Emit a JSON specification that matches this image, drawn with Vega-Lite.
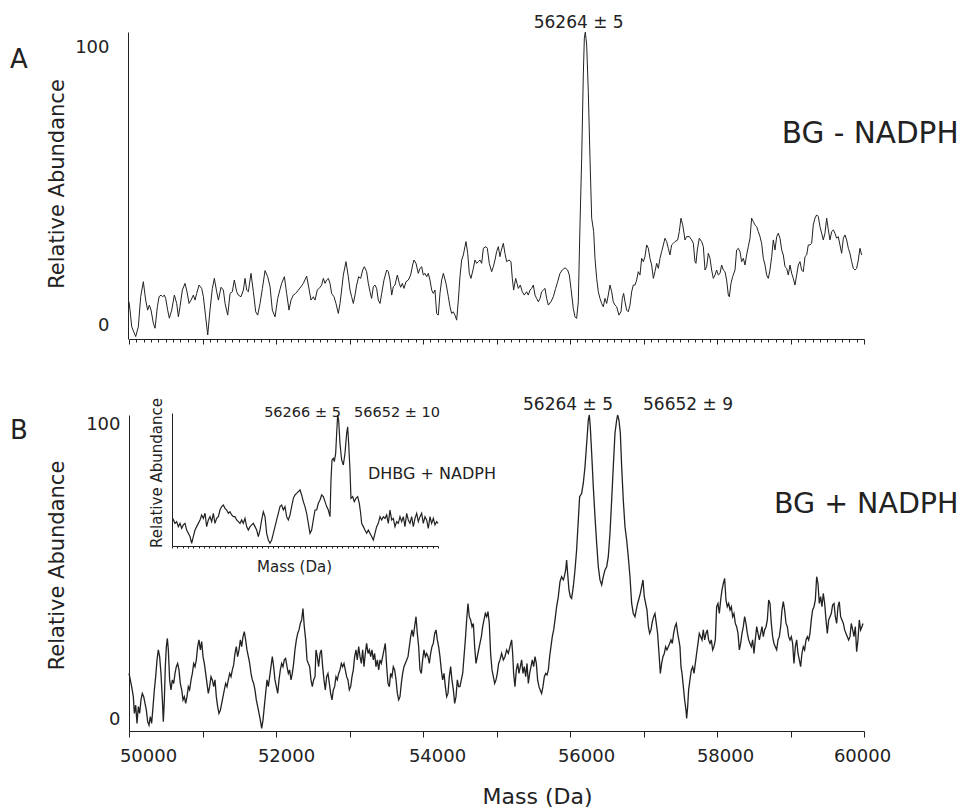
{
"$schema": "https://vega.github.io/schema/vega-lite/v6.json",
"width": 962, "height": 809, "autosize": {"type": "none"}, "padding": 0, "background": "white",
"config": {"view": {"stroke": null}, "axis": {"grid": false, "domainColor": "#222", "tickColor": "#222", "labelColor": "#222", "titleColor": "#222", "labelFont": "DejaVu Sans", "titleFont": "DejaVu Sans", "titleFontWeight": "normal", "labelFlush": false, "labelOverlap": false}, "text": {"font": "DejaVu Sans", "color": "#222"}},
"datasets": {
"A": [{"m":50000,"v":8.7},{"m":50014,"v":5.7},{"m":50037,"v":-0.3},{"m":50091,"v":-3.8},{"m":50127,"v":-0.3},{"m":50159,"v":10.5},{"m":50195,"v":15.9},{"m":50227,"v":9.3},{"m":50254,"v":5.7},{"m":50277,"v":7.5},{"m":50300,"v":5.7},{"m":50331,"v":1.0},{"m":50354,"v":-0.8},{"m":50386,"v":6.9},{"m":50409,"v":10.5},{"m":50436,"v":11.1},{"m":50458,"v":10.5},{"m":50481,"v":11.1},{"m":50499,"v":9.9},{"m":50526,"v":5.7},{"m":50549,"v":2.8},{"m":50581,"v":5.7},{"m":50617,"v":11.1},{"m":50649,"v":8.1},{"m":50672,"v":3.3},{"m":50694,"v":6.9},{"m":50726,"v":12.9},{"m":50762,"v":15.3},{"m":50789,"v":12.3},{"m":50817,"v":8.1},{"m":50844,"v":9.3},{"m":50876,"v":11.1},{"m":50898,"v":9.3},{"m":50921,"v":11.7},{"m":50953,"v":14.7},{"m":50989,"v":13.5},{"m":51012,"v":10.5},{"m":51043,"v":3.3},{"m":51071,"v":-3.2},{"m":51102,"v":5.7},{"m":51134,"v":13.5},{"m":51161,"v":17.1},{"m":51193,"v":12.3},{"m":51216,"v":9.3},{"m":51252,"v":13.9},{"m":51284,"v":12.9},{"m":51307,"v":8.1},{"m":51343,"v":3.9},{"m":51375,"v":11.7},{"m":51406,"v":12.3},{"m":51433,"v":16.5},{"m":51465,"v":12.3},{"m":51488,"v":11.1},{"m":51524,"v":10.5},{"m":51556,"v":12.9},{"m":51579,"v":17.1},{"m":51601,"v":12.9},{"m":51624,"v":12.3},{"m":51660,"v":18.9},{"m":51692,"v":12.3},{"m":51724,"v":5.1},{"m":51751,"v":3.9},{"m":51783,"v":8.1},{"m":51815,"v":13.5},{"m":51851,"v":19.9},{"m":51887,"v":17.7},{"m":51919,"v":14.1},{"m":51950,"v":5.7},{"m":51987,"v":3.3},{"m":52023,"v":9.9},{"m":52055,"v":13.2},{"m":52077,"v":15.3},{"m":52114,"v":17.7},{"m":52145,"v":11.7},{"m":52177,"v":5.7},{"m":52204,"v":9.3},{"m":52236,"v":11.1},{"m":52268,"v":11.7},{"m":52304,"v":12.9},{"m":52340,"v":14.1},{"m":52372,"v":15.3},{"m":52417,"v":17.9},{"m":52440,"v":14.7},{"m":52476,"v":9.3},{"m":52508,"v":10.5},{"m":52531,"v":9.3},
{"m":52562,"v":12.9},{"m":52599,"v":13.9},{"m":52621,"v":14.7},{"m":52644,"v":17.1},{"m":52667,"v":15.3},{"m":52689,"v":16.5},{"m":52712,"v":17.1},{"m":52735,"v":15.3},{"m":52757,"v":11.7},{"m":52789,"v":10.5},{"m":52816,"v":8.1},{"m":52848,"v":4.5},{"m":52871,"v":8.1},{"m":52898,"v":14.1},{"m":52916,"v":18.3},{"m":52952,"v":23.1},{"m":52984,"v":17.7},{"m":53007,"v":12.9},{"m":53029,"v":10.5},{"m":53052,"v":8.1},{"m":53075,"v":11.1},{"m":53097,"v":14.7},{"m":53125,"v":17.7},{"m":53152,"v":17.1},{"m":53179,"v":20.1},{"m":53202,"v":21.3},{"m":53233,"v":19.5},{"m":53256,"v":15.3},{"m":53279,"v":12.3},{"m":53301,"v":9.9},{"m":53324,"v":14.1},{"m":53347,"v":14.7},{"m":53369,"v":13.5},{"m":53392,"v":9.3},{"m":53415,"v":8.1},{"m":53438,"v":11.7},{"m":53469,"v":16.5},{"m":53506,"v":20.1},{"m":53528,"v":19.5},{"m":53551,"v":16.5},{"m":53574,"v":11.1},{"m":53596,"v":14.1},{"m":53619,"v":14.7},{"m":53651,"v":18.3},{"m":53678,"v":15.3},{"m":53696,"v":13.9},{"m":53719,"v":15.3},{"m":53741,"v":13.5},{"m":53769,"v":15.9},{"m":53800,"v":16.5},{"m":53832,"v":18.3},{"m":53859,"v":21.9},{"m":53877,"v":23.7},{"m":53905,"v":22.5},{"m":53936,"v":18.9},{"m":53959,"v":20.7},{"m":53982,"v":21.3},{"m":54004,"v":18.3},{"m":54027,"v":18.9},{"m":54050,"v":17.7},{"m":54072,"v":18.9},{"m":54095,"v":16.5},{"m":54118,"v":12.9},{"m":54140,"v":11.7},{"m":54163,"v":12.9},{"m":54186,"v":4.5},{"m":54208,"v":3.9},{"m":54231,"v":11.7},{"m":54254,"v":16.5},{"m":54277,"v":18.9},{"m":54313,"v":15.3},{"m":54345,"v":10.5},{"m":54367,"v":6.9},{"m":54390,"v":4.5},{"m":54413,"v":5.1},{"m":54435,"v":3.9},{"m":54458,"v":2.1},{"m":54481,"v":9.3},{"m":54503,"v":17.7},{"m":54526,"v":23.7},{"m":54549,"v":25.5},{"m":54571,"v":28.5},{"m":54585,"v":30.3},{"m":54608,"v":26.1},{"m":54630,"v":18.9},{"m":54653,"v":17.1},{"m":54685,"v":20.7},{"m":54707,"v":23.7},{"m":54730,"v":22.5},{"m":54753,"v":23.1},{"m":54775,"v":23.7},{"m":54798,"v":22.5},{"m":54821,"v":27.9},{"m":54857,"v":28.5},{"m":54875,"v":27.9},{"m":54902,"v":22.5},{"m":54934,"v":19.5},{"m":54957,"v":21.3},{"m":54979,"v":23.7},{"m":55002,"v":26.7},{"m":55025,"v":28.5},{"m":55047,"v":24.9},
{"m":55061,"v":26.7},{"m":55093,"v":29.7},{"m":55115,"v":26.1},{"m":55138,"v":23.1},{"m":55170,"v":23.7},{"m":55197,"v":23.1},{"m":55215,"v":17.1},{"m":55233,"v":12.9},{"m":55261,"v":17.1},{"m":55279,"v":15.3},{"m":55297,"v":13.5},{"m":55324,"v":14.7},{"m":55351,"v":12.3},{"m":55378,"v":11.1},{"m":55410,"v":12.3},{"m":55433,"v":11.1},{"m":55456,"v":12.9},{"m":55478,"v":13.5},{"m":55501,"v":14.7},{"m":55524,"v":11.1},{"m":55546,"v":9.9},{"m":55569,"v":8.7},{"m":55592,"v":9.9},{"m":55614,"v":12.3},{"m":55637,"v":12.9},{"m":55660,"v":13.5},{"m":55682,"v":9.9},{"m":55705,"v":7.5},{"m":55741,"v":8.7},{"m":55773,"v":10.5},{"m":55805,"v":13.5},{"m":55832,"v":15.9},{"m":55864,"v":18.9},{"m":55895,"v":20.1},{"m":55932,"v":20.9},{"m":55968,"v":20.1},{"m":55991,"v":18.3},{"m":56013,"v":13.5},{"m":56045,"v":6.3},{"m":56068,"v":3.3},{"m":56090,"v":2.7},{"m":56113,"v":8.7},{"m":56136,"v":36.3},{"m":56159,"v":60.2},{"m":56181,"v":90.1},{"m":56195,"v":103.3},{"m":56208,"v":105.5},{"m":56227,"v":100.9},{"m":56249,"v":84.1},{"m":56272,"v":60.2},{"m":56295,"v":38.7},{"m":56322,"v":33.9},{"m":56340,"v":24.3},{"m":56363,"v":17.1},{"m":56385,"v":12.3},{"m":56408,"v":9.9},{"m":56431,"v":8.1},{"m":56453,"v":6.9},{"m":56476,"v":9.9},{"m":56499,"v":8.1},{"m":56521,"v":11.1},{"m":56544,"v":14.7},{"m":56567,"v":12.3},{"m":56589,"v":8.7},{"m":56612,"v":7.5},{"m":56635,"v":6.9},{"m":56666,"v":3.9},{"m":56694,"v":5.1},{"m":56712,"v":9.9},{"m":56730,"v":11.7},{"m":56748,"v":8.7},{"m":56771,"v":5.7},{"m":56793,"v":5.1},{"m":56816,"v":7.5},{"m":56839,"v":12.3},{"m":56861,"v":14.7},{"m":56884,"v":14.7},{"m":56907,"v":16.5},{"m":56929,"v":19.5},{"m":56952,"v":18.3},{"m":56975,"v":24.3},{"m":56998,"v":23.1},{"m":57020,"v":24.9},{"m":57043,"v":29.1},{"m":57066,"v":27.9},{"m":57088,"v":24.3},{"m":57111,"v":21.9},{"m":57134,"v":17.1},{"m":57156,"v":19.5},{"m":57179,"v":22.5},{"m":57202,"v":20.7},{"m":57224,"v":24.3},{"m":57247,"v":26.7},{"m":57270,"v":29.1},{"m":57292,"v":31.5},{"m":57315,"v":30.3},{"m":57338,"v":27.9},{"m":57360,"v":25.5},{"m":57383,"v":29.1},{"m":57406,"v":29.7},{"m":57428,"v":30.3},{"m":57465,"v":30.9},{"m":57487,"v":33.9},{"m":57510,"v":38.7},{"m":57533,"v":36.3},{"m":57555,"v":32.7},
{"m":57564,"v":30.9},{"m":57587,"v":32.1},{"m":57623,"v":32.1},{"m":57655,"v":30.9},{"m":57678,"v":29.7},{"m":57700,"v":23.1},{"m":57714,"v":22.5},{"m":57732,"v":27.3},{"m":57759,"v":31.5},{"m":57791,"v":30.3},{"m":57814,"v":28.5},{"m":57837,"v":20.1},{"m":57859,"v":21.3},{"m":57882,"v":26.1},{"m":57905,"v":24.3},{"m":57927,"v":20.1},{"m":57950,"v":17.1},{"m":57973,"v":18.3},{"m":57995,"v":20.1},{"m":58018,"v":18.3},{"m":58041,"v":18.9},{"m":58063,"v":21.9},{"m":58086,"v":20.1},{"m":58109,"v":19.5},{"m":58131,"v":16.5},{"m":58154,"v":11.1},{"m":58168,"v":10.5},{"m":58190,"v":15.3},{"m":58213,"v":17.7},{"m":58245,"v":20.1},{"m":58267,"v":27.3},{"m":58290,"v":27.9},{"m":58313,"v":26.7},{"m":58335,"v":23.1},{"m":58358,"v":24.3},{"m":58381,"v":21.9},{"m":58403,"v":25.5},{"m":58426,"v":28.5},{"m":58449,"v":31.5},{"m":58471,"v":38.7},{"m":58494,"v":37.5},{"m":58517,"v":36.3},{"m":58539,"v":35.7},{"m":58562,"v":33.9},{"m":58585,"v":32.1},{"m":58607,"v":29.7},{"m":58630,"v":24.3},{"m":58653,"v":21.9},{"m":58676,"v":18.3},{"m":58698,"v":17.1},{"m":58721,"v":20.1},{"m":58744,"v":24.9},{"m":58766,"v":30.9},{"m":58789,"v":27.3},{"m":58812,"v":32.1},{"m":58834,"v":33.3},{"m":58857,"v":31.5},{"m":58880,"v":27.3},{"m":58902,"v":25.5},{"m":58925,"v":21.3},{"m":58948,"v":20.7},{"m":58970,"v":18.3},{"m":58993,"v":21.9},{"m":59016,"v":18.9},{"m":59038,"v":17.1},{"m":59061,"v":14.7},{"m":59084,"v":18.3},{"m":59106,"v":21.9},{"m":59129,"v":23.1},{"m":59152,"v":20.1},{"m":59174,"v":19.5},{"m":59197,"v":24.9},{"m":59220,"v":25.5},{"m":59242,"v":29.1},{"m":59265,"v":29.1},{"m":59288,"v":29.7},{"m":59310,"v":36.3},{"m":59333,"v":38.7},{"m":59356,"v":39.9},{"m":59378,"v":39.3},{"m":59401,"v":35.7},{"m":59424,"v":33.3},{"m":59446,"v":30.9},{"m":59469,"v":33.3},{"m":59492,"v":38.7},{"m":59515,"v":34.5},{"m":59537,"v":30.9},{"m":59560,"v":33.9},{"m":59583,"v":34.5},{"m":59605,"v":33.3},{"m":59628,"v":31.5},{"m":59650,"v":32.1},{"m":59673,"v":29.1},{"m":59696,"v":26.1},{"m":59719,"v":31.5},{"m":59741,"v":32.7},{"m":59764,"v":30.9},{"m":59787,"v":27.9},{"m":59809,"v":26.1},{"m":59832,"v":23.1},{"m":59855,"v":20.7},{"m":59877,"v":20.1},{"m":59900,"v":20.7},{"m":59923,"v":23.7},{"m":59945,"v":27.9},{"m":59968,"v":25.5}],
"B": [{"m":50000,"v":15.5},{"m":50018,"v":13.3},{"m":50036,"v":11.0},{"m":50059,"v":7.6},{"m":50073,"v":1.9},{"m":50091,"v":4.7},{"m":50109,"v":-1.5},{"m":50127,"v":4.2},{"m":50145,"v":1.9},{"m":50163,"v":6.5},{"m":50181,"v":8.7},{"m":50200,"v":7.6},{"m":50218,"v":5.3},{"m":50236,"v":3.0},{"m":50254,"v":-0.9},{"m":50272,"v":-2.1},{"m":50290,"v":0.8},{"m":50308,"v":-1.5},{"m":50327,"v":4.2},{"m":50345,"v":9.9},{"m":50363,"v":14.4},{"m":50381,"v":20.1},{"m":50399,"v":23.5},{"m":50417,"v":21.2},{"m":50435,"v":15.5},{"m":50454,"v":6.5},{"m":50467,"v":-0.9},{"m":50481,"v":6.5},{"m":50494,"v":17.8},{"m":50508,"v":24.6},{"m":50522,"v":27.4},{"m":50535,"v":23.5},{"m":50553,"v":13.3},{"m":50571,"v":9.9},{"m":50590,"v":13.3},{"m":50608,"v":12.1},{"m":50626,"v":15.5},{"m":50644,"v":17.8},{"m":50662,"v":18.9},{"m":50680,"v":16.7},{"m":50698,"v":12.1},{"m":50717,"v":9.9},{"m":50735,"v":6.5},{"m":50753,"v":7.6},{"m":50771,"v":5.3},{"m":50789,"v":7.6},{"m":50807,"v":11.0},{"m":50825,"v":9.9},{"m":50844,"v":13.3},{"m":50862,"v":15.5},{"m":50880,"v":18.9},{"m":50898,"v":17.8},{"m":50916,"v":20.1},{"m":50934,"v":24.6},{"m":50952,"v":26.9},{"m":50971,"v":23.5},{"m":50989,"v":26.3},{"m":51007,"v":21.2},{"m":51025,"v":18.9},{"m":51043,"v":15.5},{"m":51061,"v":12.1},{"m":51079,"v":8.7},{"m":51097,"v":11.0},{"m":51116,"v":14.4},{"m":51134,"v":13.3},{"m":51152,"v":11.0},{"m":51170,"v":13.3},{"m":51188,"v":7.6},{"m":51206,"v":4.2},{"m":51224,"v":1.9},{"m":51243,"v":3.0},{"m":51261,"v":5.3},{"m":51279,"v":7.6},{"m":51297,"v":9.9},{"m":51315,"v":12.1},{"m":51333,"v":11.0},{"m":51351,"v":13.3},{"m":51370,"v":15.5},{"m":51388,"v":14.4},{"m":51406,"v":16.7},{"m":51424,"v":18.4},{"m":51442,"v":22.3},{"m":51460,"v":24.6},{"m":51478,"v":21.2},{"m":51497,"v":23.5},{"m":51515,"v":26.9},{"m":51533,"v":24.6},{"m":51551,"v":28.0},{"m":51569,"v":29.7},{"m":51587,"v":26.9},{"m":51605,"v":23.5},{"m":51624,"v":21.2},{"m":51642,"v":18.9},{"m":51660,"v":15.5},{"m":51678,"v":13.3},{"m":51696,"v":12.1},{"m":51714,"v":9.9},{"m":51732,"v":6.5},{"m":51751,"v":4.2},{"m":51769,"v":1.9},{"m":51787,"v":-0.4},{"m":51805,"v":-3.2},{"m":51823,"v":-0.4},{"m":51841,"v":4.2},{"m":51859,"v":8.7},{"m":51878,"v":13.3},{"m":51896,"v":11.0},{"m":51914,"v":14.4},{"m":51932,"v":17.8},{"m":51950,"v":21.2},{"m":51968,"v":17.8},{"m":51986,"v":13.3},{"m":52005,"v":11.0},{"m":52023,"v":8.7},{"m":52041,"v":13.3},{"m":52059,"v":16.7},{"m":52077,"v":18.9},{"m":52095,"v":17.8},{"m":52113,"v":20.1},{"m":52131,"v":20.6},{"m":52150,"v":17.8},{"m":52168,"v":15.5},{"m":52186,"v":16.7},{"m":52204,"v":13.3},{"m":52222,"v":15.5},{"m":52240,"v":18.9},{"m":52258,"v":23.5},{"m":52277,"v":26.9},{"m":52295,"v":29.1},{"m":52313,"v":30.3},{"m":52331,"v":32.5},{"m":52349,"v":33.7},{"m":52367,"v":37.6},{"m":52385,"v":31.4},{"m":52404,"v":26.9},{"m":52422,"v":20.1},{"m":52440,"v":18.9},{"m":52458,"v":17.8},{"m":52476,"v":13.3},{"m":52494,"v":11.0},{"m":52512,"v":13.3},{"m":52531,"v":14.4},
{"m":52544,"v":23.5},{"m":52562,"v":21.2},{"m":52580,"v":17.8},{"m":52599,"v":22.3},{"m":52617,"v":23.5},{"m":52635,"v":17.8},{"m":52653,"v":13.3},{"m":52671,"v":9.9},{"m":52689,"v":14.4},{"m":52707,"v":15.5},{"m":52726,"v":12.1},{"m":52744,"v":8.7},{"m":52762,"v":6.5},{"m":52780,"v":9.9},{"m":52798,"v":11.0},{"m":52816,"v":14.4},{"m":52834,"v":13.3},{"m":52853,"v":15.5},{"m":52871,"v":16.7},{"m":52889,"v":18.9},{"m":52907,"v":17.8},{"m":52925,"v":18.9},{"m":52943,"v":16.7},{"m":52961,"v":14.4},{"m":52979,"v":13.3},{"m":52998,"v":9.9},{"m":53016,"v":11.0},{"m":53034,"v":14.4},{"m":53052,"v":16.7},{"m":53070,"v":21.2},{"m":53088,"v":23.5},{"m":53106,"v":20.1},{"m":53125,"v":24.6},{"m":53143,"v":21.2},{"m":53161,"v":18.9},{"m":53179,"v":23.5},{"m":53197,"v":17.8},{"m":53215,"v":22.3},{"m":53233,"v":25.7},{"m":53252,"v":22.3},{"m":53270,"v":23.5},{"m":53288,"v":21.2},{"m":53306,"v":23.5},{"m":53324,"v":20.1},{"m":53342,"v":22.3},{"m":53360,"v":17.8},{"m":53379,"v":20.1},{"m":53397,"v":16.7},{"m":53415,"v":20.1},{"m":53433,"v":18.9},{"m":53451,"v":21.2},{"m":53469,"v":23.5},{"m":53487,"v":25.7},{"m":53506,"v":17.8},{"m":53524,"v":12.1},{"m":53542,"v":11.0},{"m":53560,"v":15.5},{"m":53578,"v":14.4},{"m":53596,"v":17.8},{"m":53614,"v":16.7},{"m":53633,"v":13.3},{"m":53651,"v":8.7},{"m":53669,"v":6.5},{"m":53687,"v":7.6},{"m":53705,"v":12.1},{"m":53723,"v":15.5},{"m":53741,"v":17.8},{"m":53759,"v":18.9},{"m":53778,"v":20.1},{"m":53796,"v":21.2},{"m":53814,"v":24.6},{"m":53832,"v":28.0},{"m":53850,"v":30.3},{"m":53868,"v":28.0},{"m":53886,"v":31.4},{"m":53905,"v":34.8},{"m":53923,"v":29.1},{"m":53941,"v":24.6},{"m":53959,"v":16.7},{"m":53977,"v":15.5},{"m":53995,"v":20.1},{"m":54013,"v":23.5},{"m":54032,"v":21.2},{"m":54050,"v":22.3},{"m":54068,"v":21.2},{"m":54086,"v":18.9},{"m":54104,"v":22.3},{"m":54122,"v":24.6},{"m":54140,"v":25.7},{"m":54159,"v":29.1},{"m":54177,"v":30.3},{"m":54195,"v":26.9},{"m":54213,"v":24.6},{"m":54231,"v":21.2},{"m":54249,"v":16.7},{"m":54267,"v":13.3},{"m":54286,"v":15.5},{"m":54304,"v":11.0},{"m":54322,"v":7.6},{"m":54340,"v":8.7},{"m":54358,"v":14.4},{"m":54376,"v":17.8},{"m":54394,"v":13.3},{"m":54413,"v":9.9},{"m":54431,"v":5.3},{"m":54449,"v":7.6},{"m":54467,"v":13.3},{"m":54485,"v":11.0},{"m":54503,"v":11.0},{"m":54521,"v":13.3},{"m":54540,"v":15.5},{"m":54558,"v":21.2},{"m":54576,"v":26.9},{"m":54594,"v":33.7},{"m":54612,"v":39.3},{"m":54630,"v":34.8},{"m":54648,"v":33.7},{"m":54667,"v":31.4},{"m":54685,"v":32.5},{"m":54703,"v":24.6},{"m":54721,"v":18.9},{"m":54739,"v":21.2},{"m":54757,"v":23.5},{"m":54775,"v":25.7},{"m":54794,"v":28.0},{"m":54812,"v":31.4},{"m":54830,"v":33.7},{"m":54848,"v":35.9},{"m":54866,"v":34.8},{"m":54884,"v":36.5},{"m":54902,"v":32.5},{"m":54920,"v":22.3},{"m":54939,"v":16.7},{"m":54957,"v":14.4},{"m":54975,"v":12.1},{"m":54993,"v":13.3},{"m":55011,"v":15.5},{"m":55029,"v":18.9},{"m":55047,"v":20.1},
{"m":55070,"v":22.3},{"m":55093,"v":20.1},{"m":55115,"v":21.2},{"m":55138,"v":23.5},{"m":55161,"v":22.3},{"m":55183,"v":24.6},{"m":55206,"v":26.9},{"m":55220,"v":22.3},{"m":55233,"v":15.5},{"m":55251,"v":11.0},{"m":55270,"v":16.7},{"m":55288,"v":18.9},{"m":55306,"v":15.5},{"m":55324,"v":17.8},{"m":55342,"v":20.1},{"m":55360,"v":15.5},{"m":55378,"v":17.8},{"m":55397,"v":14.4},{"m":55415,"v":18.9},{"m":55433,"v":12.1},{"m":55451,"v":15.5},{"m":55469,"v":17.8},{"m":55487,"v":20.1},{"m":55505,"v":17.8},{"m":55524,"v":21.2},{"m":55542,"v":18.9},{"m":55560,"v":13.2},{"m":55578,"v":11.0},{"m":55596,"v":9.8},{"m":55614,"v":8.7},{"m":55632,"v":11.0},{"m":55651,"v":14.4},{"m":55669,"v":15.5},{"m":55687,"v":15.0},{"m":55705,"v":16.6},{"m":55723,"v":21.2},{"m":55741,"v":24.6},{"m":55759,"v":28.0},{"m":55778,"v":30.3},{"m":55796,"v":33.7},{"m":55818,"v":38.2},{"m":55841,"v":41.6},{"m":55864,"v":46.7},{"m":55886,"v":48.4},{"m":55909,"v":47.3},{"m":55923,"v":48.4},{"m":55941,"v":50.7},{"m":55954,"v":54.1},{"m":55968,"v":49.5},{"m":55986,"v":43.9},{"m":56004,"v":41.6},{"m":56022,"v":41.0},{"m":56045,"v":45.0},{"m":56068,"v":50.7},{"m":56090,"v":57.5},{"m":56113,"v":67.7},{"m":56131,"v":75.6},{"m":56158,"v":76.7},{"m":56181,"v":80.2},{"m":56204,"v":85.8},{"m":56227,"v":93.8},{"m":56249,"v":101.7},{"m":56263,"v":103.4},{"m":56276,"v":99.4},{"m":56295,"v":90.4},{"m":56317,"v":79.0},{"m":56340,"v":68.8},{"m":56363,"v":59.7},{"m":56385,"v":51.8},{"m":56408,"v":47.3},{"m":56431,"v":45.6},{"m":56453,"v":48.4},{"m":56476,"v":50.7},{"m":56499,"v":51.8},{"m":56521,"v":55.2},{"m":56544,"v":63.2},{"m":56567,"v":74.5},{"m":56589,"v":85.8},{"m":56612,"v":97.2},{"m":56635,"v":101.7},{"m":56648,"v":103.4},{"m":56666,"v":101.7},{"m":56685,"v":97.2},{"m":56703,"v":85.8},{"m":56725,"v":74.5},{"m":56748,"v":65.4},{"m":56771,"v":60.9},{"m":56793,"v":55.2},{"m":56816,"v":48.4},{"m":56839,"v":39.3},{"m":56861,"v":35.9},{"m":56884,"v":34.8},{"m":56902,"v":37.1},{"m":56920,"v":39.3},{"m":56939,"v":41.0},{"m":56957,"v":42.7},{"m":56975,"v":45.0},{"m":56993,"v":47.3},{"m":57011,"v":41.6},{"m":57029,"v":39.3},{"m":57047,"v":37.1},{"m":57066,"v":31.4},{"m":57084,"v":29.1},{"m":57102,"v":30.3},{"m":57120,"v":33.1},{"m":57138,"v":34.8},{"m":57156,"v":35.9},{"m":57174,"v":32.5},{"m":57192,"v":29.1},{"m":57211,"v":22.3},{"m":57229,"v":15.5},{"m":57247,"v":18.9},{"m":57265,"v":21.2},{"m":57283,"v":22.3},{"m":57301,"v":24.6},{"m":57319,"v":23.5},{"m":57338,"v":24.6},{"m":57356,"v":25.7},{"m":57374,"v":26.9},{"m":57392,"v":25.7},{"m":57410,"v":29.1},{"m":57428,"v":31.4},{"m":57446,"v":32.5},{"m":57465,"v":29.1},{"m":57483,"v":26.6},
{"m":57496,"v":24.6},{"m":57510,"v":17.8},{"m":57524,"v":15.5},{"m":57542,"v":11.0},{"m":57560,"v":6.4},{"m":57578,"v":3.0},{"m":57587,"v":0.2},{"m":57601,"v":4.2},{"m":57614,"v":9.9},{"m":57632,"v":13.3},{"m":57651,"v":16.7},{"m":57669,"v":17.8},{"m":57687,"v":15.5},{"m":57705,"v":18.9},{"m":57723,"v":22.3},{"m":57741,"v":25.7},{"m":57759,"v":29.1},{"m":57778,"v":28.0},{"m":57796,"v":26.9},{"m":57814,"v":30.3},{"m":57832,"v":26.9},{"m":57850,"v":29.1},{"m":57868,"v":30.3},{"m":57886,"v":26.9},{"m":57905,"v":25.7},{"m":57923,"v":26.9},{"m":57941,"v":23.5},{"m":57959,"v":24.6},{"m":57977,"v":26.9},{"m":57995,"v":38.2},{"m":58013,"v":39.3},{"m":58032,"v":35.9},{"m":58050,"v":40.5},{"m":58068,"v":43.9},{"m":58086,"v":46.1},{"m":58104,"v":47.8},{"m":58122,"v":40.5},{"m":58140,"v":38.2},{"m":58159,"v":39.3},{"m":58177,"v":37.1},{"m":58195,"v":38.2},{"m":58213,"v":34.8},{"m":58231,"v":35.9},{"m":58249,"v":32.5},{"m":58267,"v":31.4},{"m":58286,"v":29.1},{"m":58304,"v":23.5},{"m":58322,"v":25.7},{"m":58340,"v":29.1},{"m":58358,"v":31.4},{"m":58376,"v":34.8},{"m":58394,"v":32.5},{"m":58413,"v":29.1},{"m":58431,"v":26.9},{"m":58449,"v":25.7},{"m":58467,"v":24.6},{"m":58485,"v":26.9},{"m":58503,"v":22.3},{"m":58521,"v":26.9},{"m":58540,"v":31.4},{"m":58558,"v":29.1},{"m":58576,"v":26.9},{"m":58594,"v":29.1},{"m":58612,"v":31.4},{"m":58630,"v":28.0},{"m":58648,"v":30.3},{"m":58667,"v":31.4},{"m":58685,"v":33.7},{"m":58703,"v":40.5},{"m":58721,"v":39.3},{"m":58739,"v":32.5},{"m":58757,"v":28.0},{"m":58775,"v":25.7},{"m":58793,"v":24.6},{"m":58812,"v":23.5},{"m":58830,"v":26.9},{"m":58848,"v":28.0},{"m":58866,"v":31.4},{"m":58884,"v":37.1},{"m":58902,"v":39.9},{"m":58920,"v":37.1},{"m":58939,"v":32.5},{"m":58957,"v":31.4},{"m":58975,"v":28.0},{"m":58993,"v":26.9},{"m":59011,"v":28.0},{"m":59029,"v":25.7},{"m":59047,"v":18.9},{"m":59066,"v":24.6},{"m":59084,"v":26.9},{"m":59102,"v":22.3},{"m":59120,"v":20.1},{"m":59138,"v":17.8},{"m":59156,"v":22.3},{"m":59174,"v":24.6},{"m":59192,"v":23.5},{"m":59211,"v":26.9},{"m":59229,"v":28.0},{"m":59247,"v":26.9},{"m":59265,"v":29.1},{"m":59283,"v":33.7},{"m":59301,"v":37.1},{"m":59320,"v":38.2},{"m":59338,"v":40.5},{"m":59356,"v":48.4},{"m":59374,"v":46.1},{"m":59392,"v":39.3},{"m":59410,"v":41.6},{"m":59428,"v":38.2},{"m":59446,"v":42.7},{"m":59465,"v":39.3},{"m":59483,"v":33.7},{"m":59501,"v":29.1},{"m":59519,"v":33.7},{"m":59537,"v":34.8},{"m":59555,"v":35.9},{"m":59573,"v":38.8},{"m":59592,"v":39.3},{"m":59610,"v":34.8},{"m":59628,"v":32.5},{"m":59646,"v":38.2},{"m":59664,"v":39.9},{"m":59682,"v":34.8},{"m":59700,"v":33.7},{"m":59719,"v":32.5},{"m":59737,"v":30.3},{"m":59755,"v":29.1},{"m":59773,"v":28.0},{"m":59791,"v":26.9},{"m":59809,"v":28.0},{"m":59827,"v":32.5},{"m":59846,"v":30.3},{"m":59864,"v":28.0},{"m":59882,"v":31.4},{"m":59900,"v":22.9},{"m":59918,"v":26.9},{"m":59936,"v":33.7},{"m":59954,"v":30.3},{"m":59972,"v":31.4},{"m":59986,"v":32.5}],
"inset": [{"m":50025,"v":20.3},{"m":50113,"v":16.5},{"m":50175,"v":17.8},{"m":50238,"v":14.0},{"m":50301,"v":16.5},{"m":50363,"v":12.7},{"m":50426,"v":15.3},{"m":50489,"v":16.5},{"m":50551,"v":11.4},{"m":50614,"v":8.9},{"m":50677,"v":6.4},{"m":50739,"v":1.3},{"m":50802,"v":6.4},{"m":50865,"v":11.4},{"m":50927,"v":14.0},{"m":50990,"v":16.5},{"m":51053,"v":19.1},{"m":51115,"v":22.9},{"m":51178,"v":20.3},{"m":51241,"v":24.2},{"m":51303,"v":14.0},{"m":51366,"v":19.1},{"m":51428,"v":21.6},{"m":51491,"v":17.8},{"m":51554,"v":24.2},{"m":51616,"v":16.5},{"m":51679,"v":20.3},{"m":51742,"v":21.6},{"m":51804,"v":26.7},{"m":51867,"v":29.3},{"m":51930,"v":30.5},{"m":51992,"v":28.0},{"m":52055,"v":26.7},{"m":52118,"v":24.2},{"m":52180,"v":25.4},{"m":52243,"v":22.9},{"m":52306,"v":21.6},{"m":52368,"v":21.6},{"m":52431,"v":19.1},{"m":52494,"v":17.8},{"m":52556,"v":16.5},{"m":52619,"v":19.1},{"m":52681,"v":16.5},{"m":52744,"v":20.3},{"m":52807,"v":14.0},{"m":52869,"v":11.4},{"m":52932,"v":14.0},{"m":52995,"v":15.3},{"m":53057,"v":16.5},{"m":53120,"v":14.0},{"m":53183,"v":11.4},{"m":53245,"v":6.4},{"m":53308,"v":11.4},{"m":53371,"v":19.1},{"m":53433,"v":25.4},{"m":53496,"v":21.6},{"m":53559,"v":8.9},{"m":53621,"v":3.8},{"m":53684,"v":1.3},{"m":53747,"v":3.8},{"m":53809,"v":8.9},{"m":53872,"v":14.0},{"m":53934,"v":19.1},{"m":53997,"v":24.2},{"m":54060,"v":29.3},{"m":54122,"v":30.5},{"m":54185,"v":26.7},{"m":54248,"v":29.3},{"m":54310,"v":21.6},{"m":54373,"v":19.1},{"m":54436,"v":22.9},{"m":54498,"v":29.3},{"m":54561,"v":35.6},{"m":54624,"v":38.2},{"m":54686,"v":39.4},{"m":54749,"v":40.7},{"m":54812,"v":42.0},{"m":54874,"v":38.2},{"m":54937,"v":33.1},{"m":55000,"v":29.3},{"m":55062,"v":24.2},{"m":55125,"v":16.5},{"m":55188,"v":8.9},{"m":55250,"v":11.4},{"m":55313,"v":19.1},{"m":55376,"v":26.7},{"m":55438,"v":26.7},{"m":55501,"v":31.8},{"m":55564,"v":34.3},{"m":55626,"v":38.2},{"m":55689,"v":36.9},{"m":55752,"v":33.1},{"m":55814,"v":29.3},{"m":55877,"v":26.7},{"m":55940,"v":21.6},{"m":55977,"v":49.6},{"m":56015,"v":64.9},{"m":56065,"v":66.2},{"m":56102,"v":63.6},{"m":56153,"v":70.0},{"m":56190,"v":85.2},{"m":56228,"v":99.2},{"m":56265,"v":95.4},{"m":56315,"v":77.6},{"m":56378,"v":64.9},{"m":56441,"v":61.1},{"m":56503,"v":70.0},{"m":56566,"v":85.2},{"m":56604,"v":90.3},{"m":56641,"v":77.6},{"m":56691,"v":57.3},{"m":56729,"v":35.6},{"m":56792,"v":36.9},{"m":56854,"v":33.1},{"m":56917,"v":35.6},{"m":56980,"v":36.9},{"m":57042,"v":31.8},{"m":57092,"v":24.2},{"m":57130,"v":16.5},{"m":57193,"v":14.0},{"m":57255,"v":11.4},{"m":57318,"v":8.9},{"m":57381,"v":11.4},{"m":57443,"v":8.9},{"m":57506,"v":6.4},{"m":57568,"v":3.8},{"m":57631,"v":8.9},{"m":57694,"v":14.0},{"m":57756,"v":16.5},{"m":57819,"v":21.6},{"m":57882,"v":19.1},{"m":57944,"v":21.6},{"m":58007,"v":20.3},{"m":58070,"v":22.9},{"m":58132,"v":16.5},{"m":58195,"v":26.7},{"m":58258,"v":19.1},{"m":58320,"v":20.3},{"m":58383,"v":14.0},{"m":58446,"v":17.8},{"m":58508,"v":16.5},{"m":58571,"v":21.6},{"m":58634,"v":17.8},{"m":58696,"v":21.6},{"m":58759,"v":14.0},{"m":58822,"v":24.2},{"m":58884,"v":19.1},{"m":58947,"v":16.5},{"m":59010,"v":21.6},{"m":59072,"v":14.0},{"m":59135,"v":20.3},{"m":59198,"v":24.2},{"m":59260,"v":17.8},{"m":59323,"v":21.6},{"m":59385,"v":24.2},{"m":59448,"v":16.5},{"m":59511,"v":21.6},{"m":59573,"v":19.1},{"m":59636,"v":12.7},{"m":59699,"v":21.6},{"m":59761,"v":16.5},{"m":59824,"v":20.3},{"m":59887,"v":15.3},{"m":59949,"v":17.8},{"m":60000,"v":16.5}]
},
"layer": [
{
"layer": [
{"data": {"name": "A"}, "mark": {"type": "line", "color": "#222", "strokeWidth": 1},
"encoding": {
"x": {"field": "m", "type": "quantitative", "scale": {"domain": [50000, 60000], "range": [129, 864], "nice": false, "zero": false},
"axis": {"orient": "bottom", "offset": -470, "tickCount": 100, "labels": false, "title": null, "tickSize": {"condition": {"test": "datum.value % 1000 === 0", "value": 5}, "value": 3}}},
"y": {"field": "v", "type": "quantitative", "scale": {"domain": [-4.67, 105.57], "range": [339, 32], "nice": false, "zero": false},
"axis": {"orient": "left", "offset": -128, "values": [0, 100], "ticks": false, "labelPadding": 19, "labelFontSize": 18, "title": "Relative Abundance", "titleFontSize": 21, "titleX": -71, "titleY": 183.5, "titleAngle": 270, "titleBaseline": "middle", "titleAlign": "center"}}
}},
{"data": {"values": [{}]}, "mark": {"type": "text", "text": "A", "fontSize": 26, "align": "center", "baseline": "middle"},
"encoding": {"x": {"datum": 48503, "type": "quantitative"}, "y": {"datum": 95.5, "type": "quantitative"}}},
{"data": {"values": [{}]}, "mark": {"type": "text", "text": "56264 ± 5", "fontSize": 17, "align": "center", "baseline": "alphabetic"},
"encoding": {"x": {"datum": 56118, "type": "quantitative"}, "y": {"datum": 106.9, "type": "quantitative"}}},
{"data": {"values": [{}]}, "mark": {"type": "text", "text": "BG - NADPH", "fontSize": 29.5, "align": "left", "baseline": "alphabetic"},
"encoding": {"x": {"datum": 58880, "type": "quantitative"}, "y": {"datum": 65.6, "type": "quantitative"}}}
]
},
{
"layer": [
{"data": {"name": "B"}, "mark": {"type": "line", "color": "#222", "strokeWidth": 1.3},
"encoding": {
"x": {"field": "m", "type": "quantitative", "scale": {"domain": [50000, 60000], "range": [129, 864], "nice": false, "zero": false},
"axis": {"orient": "bottom", "offset": -78, "values": [50000, 51000, 52000, 53000, 54000, 55000, 56000, 57000, 58000, 59000, 60000], "format": "d", "labelExpr": "datum.value % 2000 === 0 ? datum.label : ''", "tickSize": 6, "labelFontSize": 18, "labelPadding": 10,
"labelOffset": {"condition": [{"test": "datum.value === 50000", "value": 19}, {"test": "datum.value === 52000", "value": 10}, {"test": "datum.value === 54000", "value": 14}, {"test": "datum.value === 56000", "value": 16}, {"test": "datum.value === 58000", "value": 8}], "value": -2},
"title": "Mass (Da)", "titleFontSize": 22, "titleX": 537, "titleY": 72, "titleBaseline": "alphabetic", "titleAlign": "center"}},
"y": {"field": "v", "type": "quantitative", "scale": {"domain": [-4.08, 103.4], "range": [731, 415], "nice": false, "zero": false},
"axis": {"orient": "left", "offset": -129, "values": [0, 100], "ticks": false, "labelPadding": 9, "labelFontSize": 18, "title": "Relative Abundance", "titleFontSize": 21, "titleX": -72, "titleY": 565, "titleAngle": 270, "titleBaseline": "middle", "titleAlign": "center"}}
}},
{"data": {"values": [{}]}, "mark": {"type": "text", "text": "B", "fontSize": 26, "align": "center", "baseline": "middle"},
"encoding": {"x": {"datum": 48503, "type": "quantitative"}, "y": {"datum": 98.0, "type": "quantitative"}}},
{"data": {"values": [{}]}, "mark": {"type": "text", "text": "56264 ± 5", "fontSize": 17, "align": "center", "baseline": "alphabetic"},
"encoding": {"x": {"datum": 55973, "type": "quantitative"}, "y": {"datum": 105.1, "type": "quantitative"}}},
{"data": {"values": [{}]}, "mark": {"type": "text", "text": "56652 ± 9", "fontSize": 17, "align": "center", "baseline": "alphabetic"},
"encoding": {"x": {"datum": 57605, "type": "quantitative"}, "y": {"datum": 105.1, "type": "quantitative"}}},
{"data": {"values": [{}]}, "mark": {"type": "text", "text": "BG + NADPH", "fontSize": 28.5, "align": "left", "baseline": "alphabetic"},
"encoding": {"x": {"datum": 58775, "type": "quantitative"}, "y": {"datum": 70.0, "type": "quantitative"}}}
]
},
{
"layer": [
{"data": {"name": "inset"}, "mark": {"type": "line", "color": "#222", "strokeWidth": 1.2},
"encoding": {
"x": {"field": "m", "type": "quantitative", "scale": {"domain": [50000, 60000], "range": [172, 438], "nice": false, "zero": false},
"axis": {"orient": "bottom", "offset": -263, "tickCount": 40, "labels": false, "tickSize": 2, "title": "Mass (Da)", "titleFontSize": 15, "titleX": 294, "titleY": 25.5, "titleBaseline": "alphabetic", "titleAlign": "center"}},
"y": {"field": "v", "type": "quantitative", "scale": {"domain": [-0.8, 100.8], "range": [546, 413], "nice": false, "zero": false},
"axis": {"orient": "left", "offset": -172, "labels": false, "ticks": false, "title": "Relative Abundance", "titleFontSize": 15, "titleX": -15.3, "titleY": 472.5, "titleAngle": 270, "titleBaseline": "middle", "titleAlign": "center"}}
}},
{"data": {"values": [{}]}, "mark": {"type": "text", "text": "56266 ± 5", "fontSize": 14.5, "align": "center", "baseline": "alphabetic"},
"encoding": {"x": {"datum": 54906, "type": "quantitative"}, "y": {"datum": 97.5, "type": "quantitative"}}},
{"data": {"values": [{}]}, "mark": {"type": "text", "text": "56652 ± 10", "fontSize": 14.5, "align": "center", "baseline": "alphabetic"},
"encoding": {"x": {"datum": 58458, "type": "quantitative"}, "y": {"datum": 97.5, "type": "quantitative"}}},
{"data": {"values": [{}]}, "mark": {"type": "text", "text": "DHBG + NADPH", "fontSize": 16, "align": "left", "baseline": "alphabetic"},
"encoding": {"x": {"datum": 57368, "type": "quantitative"}, "y": {"datum": 50.2, "type": "quantitative"}}}
]
}
],
"resolve": {"scale": {"x": "independent", "y": "independent"}, "axis": {"x": "independent", "y": "independent"}}
}
